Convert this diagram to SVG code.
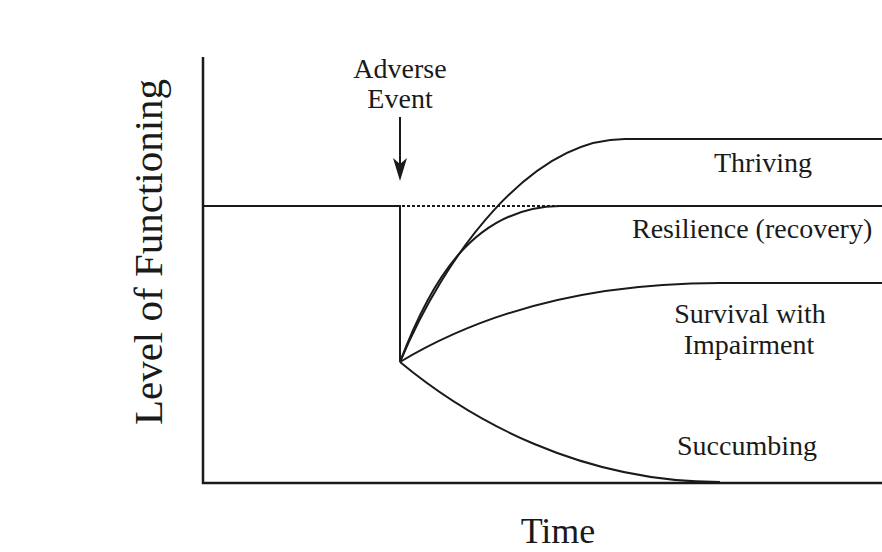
<svg xmlns="http://www.w3.org/2000/svg" width="882" height="552" viewBox="0 0 882 552">
<defs>
<style>
.t{font-family:"Liberation Serif","Times New Roman",serif;fill:#1a1a1a;}
.lbl{font-size:28px;}
.ln{fill:none;stroke:#1a1a1a;stroke-width:2;stroke-linecap:butt;}
.ax{fill:none;stroke:#1a1a1a;stroke-width:2.5;}
</style>
<marker id="ah" markerWidth="24" markerHeight="16" refX="6" refY="7" orient="auto" markerUnits="userSpaceOnUse" viewBox="0 0 24 16">
<path d="M23,7 L0,0 L6,7 L0,14 Z" fill="#1a1a1a"/>
</marker>
</defs>
<rect width="882" height="552" fill="#ffffff"/>
<g id="axes">
<path class="ax" d="M203,57 V483 H882"/>
</g>
<g id="axis-labels">
<text class="t" font-size="41" text-anchor="middle" transform="translate(162,252) rotate(-90)">Level of Functioning</text>
<text class="t" font-size="36" text-anchor="middle" x="558" y="543">Time</text>
</g>
<g id="adverse-event">
<text class="t lbl" text-anchor="middle" x="400" y="78">Adverse</text>
<text class="t lbl" text-anchor="middle" x="400" y="108">Event</text>
</g>
<g id="connectors">
<line class="ln" x1="400" y1="117" x2="400" y2="164" marker-end="url(#ah)"/>
<path class="ln" d="M203,206 H400 V362"/>
<path class="ln" d="M402,206 H560" stroke-dasharray="3,2" stroke-width="1.6"/>
<path id="thriving-curve" class="ln" d="M400,362 C445,255 530,139 625,139 H882"/>
<path id="resilience-curve" class="ln" d="M400,362 C428,288 470,207 560,206 H882"/>
<path id="survival-curve" class="ln" d="M400,362 C470,320 570,283 720,283 H882"/>
<path id="succumbing-curve" class="ln" d="M400,362 C470,420 580,482 720,482"/>
</g>
<g id="thriving"><text class="t lbl" text-anchor="middle" x="763" y="172">Thriving</text></g>
<g id="resilience"><text class="t lbl" x="632" y="238">Resilience (recovery)</text></g>
<g id="survival">
<text class="t lbl" text-anchor="middle" x="750" y="323">Survival with</text>
<text class="t lbl" text-anchor="middle" x="749" y="354">Impairment</text>
</g>
<g id="succumbing"><text class="t lbl" text-anchor="middle" x="747" y="455">Succumbing</text></g>
</svg>
